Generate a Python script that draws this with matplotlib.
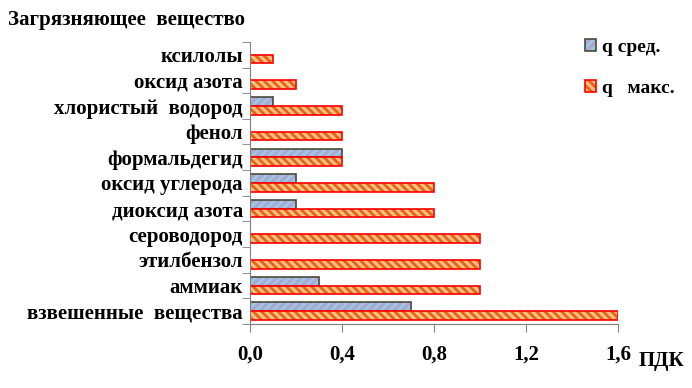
import matplotlib.pyplot as plt
from matplotlib.patches import Patch
import numpy as np

plt.rcParams['font.family'] = ['Liberation Serif', 'DejaVu Serif']
plt.rcParams['font.weight'] = 'bold'
plt.rcParams['hatch.linewidth'] = 2.0

# categories from bottom to top
substances = ['взвешенные  вещества', 'аммиак', 'этилбензол', 'сероводород',
              'диоксид азота', 'оксид углерода', 'формальдегид', 'фенол',
              'хлористый  водород', 'оксид азота', 'ксилолы']
q_mean = [0.7, 0.3, 0.0, 0.0, 0.2, 0.2, 0.4, 0.0, 0.1, 0.0, 0.0]
q_max = [1.6, 1.0, 1.0, 1.0, 0.8, 0.8, 0.4, 0.4, 0.4, 0.2, 0.1]
xticks = [0.0, 0.4, 0.8, 1.2, 1.6]
xtick_labels = ['0,0', '0,4', '0,8', '1,2', '1,6']

mean_face, mean_hatch, mean_edge = '#b3a2d3', '#92cde4', '#4a4a3a'
max_face, max_hatch, max_edge = '#fbbf8c', '#e8650c', '#ff0000'

fig = plt.figure(figsize=(6.92, 3.88), dpi=100)
ax = fig.add_axes([0.361, 0.165, 0.532, 0.727])

y = np.arange(len(substances))
h = 0.34

# hatch pass then outline pass (edge colour differs from hatch colour)
ax.barh(y + h / 2, q_mean, height=h, color=mean_face, edgecolor=mean_hatch,
        hatch='////', linewidth=0)
ax.barh(y + h / 2, q_mean, height=h, fill=False, edgecolor=mean_edge, linewidth=1.2)
ax.barh(y - h / 2, q_max, height=h, color=max_face, edgecolor=max_hatch,
        hatch='\\\\\\\\', linewidth=0)
ax.barh(y - h / 2, q_max, height=h, fill=False, edgecolor=max_edge, linewidth=1.2)

ax.set_xlim(0, 1.6)
ax.set_ylim(-0.5, len(substances) - 0.5)
ax.set_xticks(xticks)
ax.set_xticklabels(xtick_labels, fontsize=15)
ax.set_yticks(y)
ax.set_yticklabels(substances, fontsize=15)
ax.tick_params(axis='y', length=0, pad=5)
ax.set_yticks(np.arange(-0.5, len(substances)), minor=True)
ax.tick_params(axis='y', which='minor', length=6, color='#808080', direction='out')
ax.tick_params(axis='x', length=6, color='#808080', direction='out', pad=9)

for s in ['top', 'right']:
    ax.spines[s].set_visible(False)
for s in ['left', 'bottom']:
    ax.spines[s].set_color('#808080')

fig.text(0.012, 0.948, 'Загрязняющее  вещество', fontsize=15, fontweight='bold',
         ha='left', va='center')
fig.text(0.956, 0.07, 'ПДК', fontsize=15, fontweight='bold', ha='center', va='center')

h1 = (Patch(facecolor=mean_face, edgecolor=mean_hatch, hatch='////', linewidth=0),
      Patch(fill=False, edgecolor=mean_edge, linewidth=1.2))
h2 = (Patch(facecolor=max_face, edgecolor=max_hatch, hatch='\\\\\\\\', linewidth=0),
      Patch(fill=False, edgecolor=max_edge, linewidth=1.2))
fig.legend([h1, h2], ['q сред.', 'q   макс.'], loc='upper left',
           bbox_to_anchor=(0.845, 0.9), frameon=False, fontsize=14,
           borderpad=0, borderaxespad=0,
           handlelength=0.6, handleheight=0.6, handletextpad=0.3, labelspacing=1.25)

fig.savefig('out.png', dpi=100)
